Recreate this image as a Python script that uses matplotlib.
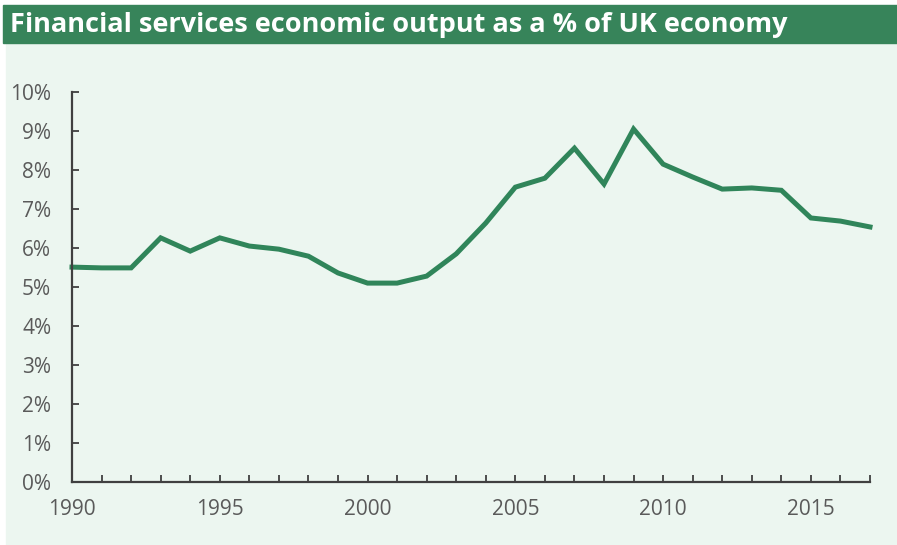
# Financial services share of UK economic output, 1990-2017
import matplotlib.pyplot as plt
from matplotlib.patches import Rectangle
from matplotlib.ticker import FuncFormatter

years = list(range(1990, 2018))
share = [5.51, 5.49, 5.49, 6.26, 5.92, 6.26, 6.05, 5.97, 5.79, 5.36,
         5.10, 5.10, 5.28, 5.85, 6.64, 7.56, 7.79, 8.56, 7.64, 9.05,
         8.15, 7.82, 7.51, 7.54, 7.48, 6.77, 6.69, 6.54]
year_labels = [1990, 1995, 2000, 2005, 2010, 2015]

title_green = '#37845a'
line_green = '#30855a'
panel_bg = '#ecf6f0'
text_grey = '#5a5a5a'
axis_grey = '#404040'

plt.rcParams['font.family'] = ['Open Sans', 'DejaVu Sans']

fig = plt.figure(figsize=(8.97, 5.45), dpi=100, facecolor='white')
W, H = 897, 545

# panel background and title bar, kept behind the axes
fig.patches.append(Rectangle((6 / W, 0), 1 - 6 / W, 1 - 43 / H,
                             transform=fig.transFigure, color=panel_bg, zorder=-5))
fig.patches.append(Rectangle((3 / W, 1 - 43 / H), 1 - 3 / W, 38 / H,
                             transform=fig.transFigure, color=title_green, zorder=-5))
fig.text(10 / W, 1 - 32 / H, 'Financial services economic output as a % of UK economy',
         color='white', fontsize=19.5, fontweight='bold', va='baseline', ha='left')

ax = fig.add_axes([72 / W, 1 - 482 / H, (870 - 72) / W, (482 - 92) / H])
ax.set_zorder(2)
ax.set_facecolor('none')
ax.plot(years, share, color=line_green, linewidth=3.6, solid_joinstyle='miter',
        clip_on=False)

ax.set_xlim(1990, 2017)
ax.set_ylim(0, 10)
ax.set_xticks(years, minor=True)
ax.set_xticks(year_labels)
ax.set_yticks(range(0, 11))
ax.yaxis.set_major_formatter(FuncFormatter(lambda v, p: f'{int(v)}%'))

for side in ['top', 'right']:
    ax.spines[side].set_visible(False)
for side in ['left', 'bottom']:
    ax.spines[side].set_color(axis_grey)
    ax.spines[side].set_linewidth(1.6)

ax.tick_params(axis='both', which='both', direction='in', color=axis_grey,
               width=1.3, length=5, labelcolor=text_grey, labelsize=15)
ax.tick_params(axis='y', pad=15)
ax.tick_params(axis='x', which='major', pad=12)

plt.savefig('out.png', dpi=100, facecolor=fig.get_facecolor())
